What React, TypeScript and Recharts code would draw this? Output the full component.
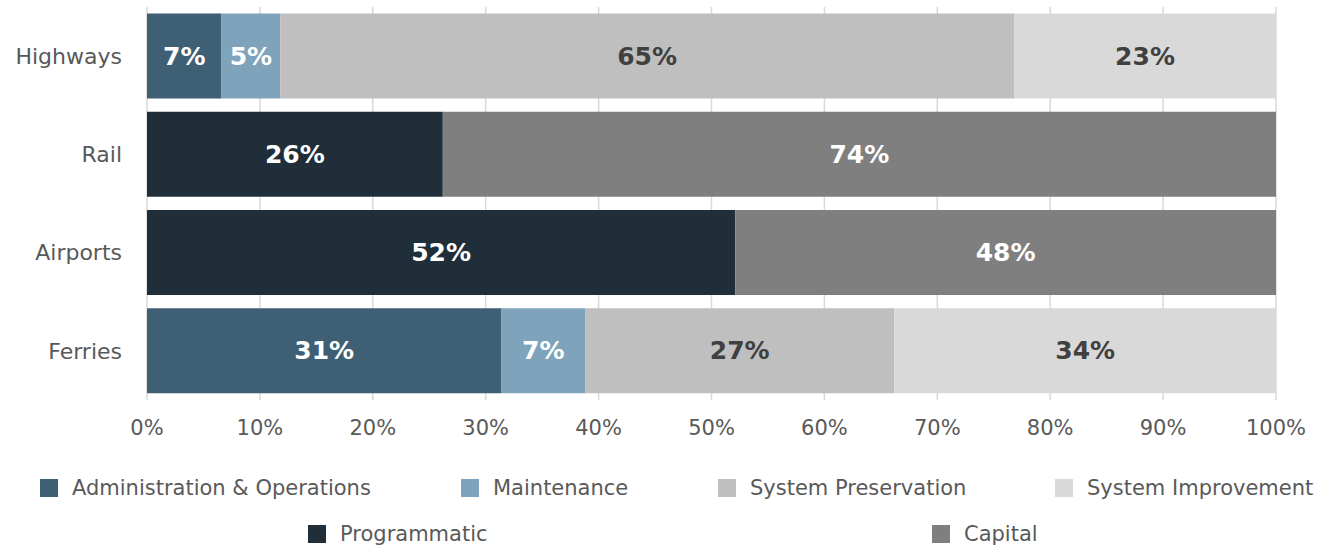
import { BarChart, Bar, XAxis, YAxis, CartesianGrid, LabelList } from "recharts";

const categories = ["Highways", "Rail", "Airports", "Ferries"];
const adminOps = [6.6, null, null, 31.4];
const maintenance = [5.2, null, null, 7.4];
const preservation = [65.0, null, null, 27.4];
const improvement = [23.2, null, null, 33.8];
const programmatic = [null, 26.2, 52.1, null];
const capital = [null, 73.8, 47.9, null];
const xTicks = [0, 10, 20, 30, 40, 50, 60, 70, 80, 90, 100];

const FONT = "'DejaVu Sans', sans-serif";

const series = [
  { key: "admin", name: "Administration & Operations", values: adminOps, color: "#3f5f74", text: "#ffffff" },
  { key: "maint", name: "Maintenance", values: maintenance, color: "#7ea3bb", text: "#ffffff" },
  { key: "pres", name: "System Preservation", values: preservation, color: "#bfbfbf", text: "#404040" },
  { key: "impr", name: "System Improvement", values: improvement, color: "#d9d9d9", text: "#404040" },
  { key: "prog", name: "Programmatic", values: programmatic, color: "#1f2e39", text: "#ffffff" },
  { key: "cap", name: "Capital", values: capital, color: "#7f7f7f", text: "#ffffff" },
];

const data = categories.map((name, i) => {
  const row: { [k: string]: string | number | null } = { name };
  series.forEach((s) => {
    row[s.key] = s.values[i];
  });
  return row;
});

// legend placement (page coords), two rows like the original
const legendSpots: { [k: string]: { left: number; top: number } } = {
  admin: { left: 40, top: 476 },
  maint: { left: 461, top: 476 },
  pres: { left: 718, top: 476 },
  impr: { left: 1055, top: 476 },
  prog: { left: 308, top: 522 },
  cap: { left: 932, top: 522 },
};

const makeLabel = (fill: string) => (props: any) => {
  const { x, y, width, height, value } = props;
  if (value == null || value === 0) return null;
  return (
    <text
      x={x + width / 2}
      y={y + height / 2}
      fill={fill}
      textAnchor="middle"
      dominantBaseline="central"
      fontFamily={FONT}
      fontSize={25}
      fontWeight="bold"
    >
      {Math.round(value)}%
    </text>
  );
};

const App = () => {
  return (
    <div style={{ position: "absolute", left: 0, top: 0, width: 1319, height: 550, background: "#fff" }}>
      <BarChart
        width={1319}
        height={550}
        data={data}
        layout="vertical"
        barCategoryGap="6.7%"
        margin={{ top: 7, right: 43, left: 0, bottom: 110 }}
      >
        <CartesianGrid horizontal={false} stroke="#d9d9d9" strokeWidth={1.5} />
        <XAxis
          type="number"
          domain={[0, 100]}
          ticks={xTicks}
          tickFormatter={(v) => `${v}%`}
          axisLine={false}
          tickLine={false}
          tickMargin={14}
          height={40}
          tick={{ fill: "#595959", fontSize: 21, fontFamily: FONT }}
        />
        <YAxis
          type="category"
          dataKey="name"
          width={147}
          axisLine={false}
          tickLine={false}
          tickMargin={19}
          tick={{ fill: "#595959", fontSize: 22, fontFamily: FONT }}
        />
        {series.map((s) => (
          <Bar key={s.key} dataKey={s.key} name={s.name} stackId="a" fill={s.color} isAnimationActive={false}>
            <LabelList dataKey={s.key} content={makeLabel(s.text)} />
          </Bar>
        ))}
      </BarChart>
      {series.map((s) => (
        <div
          key={s.key}
          style={{
            position: "absolute",
            left: legendSpots[s.key].left,
            top: legendSpots[s.key].top,
            display: "flex",
            alignItems: "center",
            fontFamily: FONT,
            fontSize: 21,
            color: "#595959",
            whiteSpace: "nowrap",
          }}
        >
          <span style={{ display: "inline-block", width: 18, height: 18, background: s.color, marginRight: 14 }} />
          {s.name}
        </div>
      ))}
    </div>
  );
};

export default App;
